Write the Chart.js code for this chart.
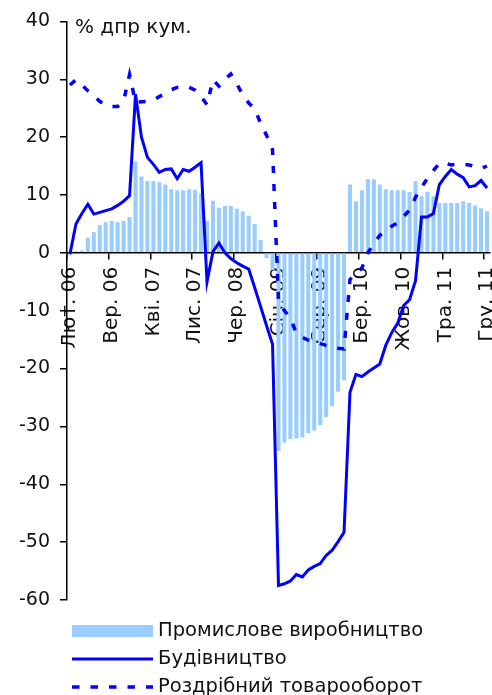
<!DOCTYPE html>
<html>
<head>
<meta charset="utf-8">
<script src="https://cdn.jsdelivr.net/npm/chart.js@4.4.1/dist/chart.umd.min.js"></script>
<style>
  body { margin: 0; background: #fff; }
  #wrap { width: 492px; height: 695px; position: relative; }
</style>
</head>
<body>
<div id="wrap"><canvas id="chart"></canvas></div>
<script>
// month labels, Feb 2006 .. Dec 2011
const monthNames = ["Січ.", "Лют.", "Бер.", "Кві.", "Тра.", "Чер.", "Лип.", "Сер.", "Вер.", "Жов.", "Лис.", "Гру."];
const years = ["06", "07", "08", "09", "10", "11"];
const categories = [];
years.forEach((y, yi) => {
  monthNames.forEach((m, mi) => {
    if (yi === 0 && mi === 0) return;
    categories.push(m + " " + y);
  });
});

const yTicks = [40, 30, 20, 10, 0, -10, -20, -30, -40, -50, -60];

// Промислове виробництво (bars)
const industry = [
  -0.4, 0.3, 0.4, 2.6, 3.6, 4.8, 5.3, 5.5, 5.3, 5.5, 6.2,
  15.8, 13.2, 12.4, 12.4, 12.2, 11.8, 11.0, 10.8, 10.8, 11.0, 10.9, 10.3,
  5.5, 9.0, 7.8, 8.1, 8.1, 7.6, 7.2, 6.4, 5.0, 2.2, -0.9, -3.0,
  -34.2, -32.8, -32.2, -32.1, -31.9, -31.2, -30.7, -29.8, -28.4, -26.5, -24.0, -22.0,
  11.8, 8.9, 10.8, 12.7, 12.7, 11.8, 11.0, 10.8, 10.8, 10.8, 10.5, 12.4,
  9.8, 10.5, 9.8, 8.6, 8.6, 8.6, 8.6, 8.9, 8.6, 8.2, 7.7, 7.2
];

// Будівництво (solid line)
const construction = [
  -0.2, 5.0, 6.8, 8.4, 6.7, 7.0, 7.3, 7.6, 8.2, 8.9, 9.9,
  27.4, 20.0, 16.5, 15.3, 13.9, 14.4, 14.5, 12.8, 14.4, 14.1, 14.8, 15.6,
  -5.0, 0.2, 1.7, 0.0, -1.0, -1.7, -2.3, -2.8, -6.0, -9.3, -12.6, -15.8,
  -57.5, -57.2, -56.7, -55.6, -56.0, -54.8, -54.2, -53.7, -52.3, -51.4, -49.9, -48.3,
  -24.1, -21.0, -21.4, -20.6, -19.9, -19.2, -16.0, -13.8, -12.2, -9.1, -8.1, -4.8,
  6.2, 6.2, 6.8, 11.8, 13.2, 14.4, 13.6, 13.0, 11.4, 11.6, 12.5, 11.2
];

// Роздрібний товарооборот (dotted line)
const retail = [
  29.0, 29.9, 29.0, 28.0, 27.1, 26.2, 25.5, 25.3, 25.3, 26.2, 30.8,
  26.0, 26.1, 26.2, 26.4, 27.0, 27.6, 28.2, 28.6, 28.7, 28.6, 28.1, 27.0,
  25.6, 29.9, 28.8, 30.0, 30.9, 29.2, 27.3, 25.9, 24.9, 22.4, 20.3, 17.8,
  -8.3, -10.0, -11.3, -13.9, -14.6, -15.1, -15.4, -15.7, -16.0, -16.3, -16.5, -16.6,
  -4.6, -3.6, -2.6, 0.0, 1.6, 3.0, 3.9, 4.6, 5.2, 6.3, 7.4, 9.6,
  11.3, 12.9, 14.2, 15.5, 15.5, 15.2, 15.3, 15.3, 15.2, 14.9, 14.6, 15.0
];

const seriesNames = ["Промислове виробництво", "Будівництво", "Роздрібний товарооборот"];
const unitLabel = "% дпр кум.";

const FONT = 'Verdana, "DejaVu Sans", sans-serif';
const BAR_COLOR = "#99CCFF";
const LINE_COLOR = "#0000FF";

// title + legend drawn by hand so they sit where the original has them
const extras = {
  id: "extras",
  afterDraw(chart) {
    const ctx = chart.ctx;
    ctx.save();
    ctx.fillStyle = "#111";
    ctx.font = "20px " + FONT;
    ctx.textBaseline = "alphabetic";
    ctx.textAlign = "left";
    ctx.fillText(unitLabel, 75, 33);

    const rows = [631, 659, 687];
    const x0 = 72, x1 = 153;
    // bars
    ctx.fillStyle = BAR_COLOR;
    ctx.fillRect(x0, rows[0] - 6, x1 - x0, 12);
    // solid
    ctx.strokeStyle = LINE_COLOR;
    ctx.lineWidth = 3;
    ctx.setLineDash([]);
    ctx.beginPath(); ctx.moveTo(x0, rows[1]); ctx.lineTo(x1, rows[1]); ctx.stroke();
    // dotted
    ctx.lineWidth = 3.5;
    ctx.setLineDash([7.5, 11]);
    ctx.beginPath(); ctx.moveTo(x0, rows[2]); ctx.lineTo(x1, rows[2]); ctx.stroke();
    ctx.setLineDash([]);

    ctx.fillStyle = "#111";
    ctx.font = "19.5px " + FONT;
    ctx.textBaseline = "middle";
    seriesNames.forEach((name, i) => ctx.fillText(name, 158, rows[i]));
    ctx.restore();
  }
};

new Chart(document.getElementById("chart"), {
  type: "bar",
  data: {
    labels: categories,
    datasets: [
      {
        type: "line",
        label: seriesNames[1],
        data: construction,
        borderColor: LINE_COLOR,
        borderWidth: 3,
        pointRadius: 0,
        tension: 0,
        fill: false,
        order: 1
      },
      {
        type: "line",
        label: seriesNames[2],
        data: retail,
        borderColor: LINE_COLOR,
        borderWidth: 3.5,
        borderDash: [7, 11],
        borderCapStyle: "butt",
        pointRadius: 0,
        tension: 0,
        fill: false,
        order: 2
      },
      {
        label: seriesNames[0],
        data: industry,
        backgroundColor: BAR_COLOR,
        borderWidth: 0,
        categoryPercentage: 1,
        barPercentage: 0.68,
        order: 3
      }
    ]
  },
  options: {
    responsive: true,
    maintainAspectRatio: false,
    animation: false,
    layout: { padding: { left: 0, right: 2, top: 20, bottom: 95 } },
    plugins: {
      legend: { display: false },
      tooltip: { enabled: false }
    },
    scales: {
      x: {
        position: { y: 0 },
        offset: true,
        grid: {
          offset: true,
          drawOnChartArea: false,
          tickLength: 6,
          lineWidth: 1.5,
          color: c => (c.index % 7 === 0 ? "#000" : "rgba(0,0,0,0)")
        },
        border: { color: "#000", width: 1.5 },
        ticks: {
          autoSkip: false,
          minRotation: 90,
          maxRotation: 90,
          padding: 8,
          color: "#111",
          font: { family: FONT, size: 20 },
          callback: (v, i) => (i % 7 === 0 ? categories[i] : "")
        },
        afterFit: s => { s.paddingLeft = 0; s.paddingRight = 0; }
      },
      y: {
        min: -60,
        max: 40,
        afterBuildTicks: s => { s.ticks = yTicks.map(v => ({ value: v })); },
        grid: { drawOnChartArea: false, tickLength: 7, lineWidth: 1.5, color: "#000" },
        border: { color: "#000", width: 1.5 },
        ticks: {
          padding: 10,
          color: "#111",
          font: { family: FONT, size: 19 }
        },
        afterFit: s => { s.width = 67; }
      }
    }
  },
  plugins: [extras]
});
</script>
</body>
</html>
